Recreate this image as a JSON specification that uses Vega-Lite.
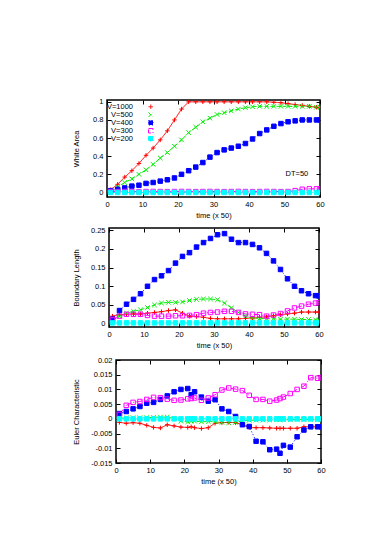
{
  "$schema": "https://vega.github.io/schema/vega-lite/v6.json",
  "padding": {"left": 70, "top": 97, "right": 0, "bottom": 0},
  "background": "white",
  "config": {
    "font": "Liberation Sans",
    "view": {"stroke": "black", "strokeWidth": 1.5},
    "axis": {"domain": false, "grid": false, "ticks": true, "tickSize": -4, "tickColor": "black", "tickWidth": 1, "labelPadding": 8, "labelFontSize": 7.5, "labelColor": "black", "titleFontSize": 7.5, "titleFontWeight": "normal", "titleColor": "black", "labelFont": "Liberation Sans", "titleFont": "Liberation Sans", "labelOverlap": false, "labelFlush": false, "tickCount": 50},
    "axisX": {"labelPadding": 7, "titlePadding": 4},
    "legend": {"labelFont": "Liberation Sans"}
  },
  "datasets": {
    "wa": [
      {"t":1,"V=1000":0.03,"V=500":0.02,"V=400":0.02,"V=300":0.01,"V=200":0},
      {"t":3,"V=1000":0.09,"V=500":0.06,"V=400":0.035,"V=300":0.01,"V=200":0},
      {"t":5,"V=1000":0.17,"V=500":0.11,"V=400":0.05,"V=300":0.011,"V=200":0},
      {"t":7,"V=1000":0.24,"V=500":0.15,"V=400":0.07,"V=300":0.01,"V=200":0},
      {"t":9,"V=1000":0.32,"V=500":0.2,"V=400":0.08,"V=300":0.009,"V=200":0},
      {"t":11,"V=1000":0.41,"V=500":0.25,"V=400":0.1,"V=300":0.01,"V=200":0},
      {"t":13,"V=1000":0.49,"V=500":0.31,"V=400":0.11,"V=300":0.011,"V=200":0},
      {"t":15,"V=1000":0.58,"V=500":0.38,"V=400":0.125,"V=300":0.01,"V=200":0},
      {"t":17,"V=1000":0.68,"V=500":0.44,"V=400":0.14,"V=300":0.009,"V=200":0},
      {"t":19,"V=1000":0.8,"V=500":0.51,"V=400":0.16,"V=300":0.01,"V=200":0},
      {"t":21,"V=1000":0.92,"V=500":0.58,"V=400":0.2,"V=300":0.011,"V=200":0},
      {"t":23,"V=1000":1.0,"V=500":0.66,"V=400":0.24,"V=300":0.01,"V=200":0},
      {"t":25,"V=1000":1.0,"V=500":0.72,"V=400":0.28,"V=300":0.009,"V=200":0},
      {"t":27,"V=1000":1.0,"V=500":0.78,"V=400":0.33,"V=300":0.01,"V=200":0},
      {"t":29,"V=1000":1.0,"V=500":0.82,"V=400":0.39,"V=300":0.011,"V=200":0},
      {"t":31,"V=1000":1.0,"V=500":0.86,"V=400":0.44,"V=300":0.01,"V=200":0},
      {"t":33,"V=1000":1.0,"V=500":0.88,"V=400":0.47,"V=300":0.009,"V=200":0},
      {"t":35,"V=1000":1.0,"V=500":0.9,"V=400":0.49,"V=300":0.01,"V=200":0},
      {"t":37,"V=1000":1.0,"V=500":0.92,"V=400":0.51,"V=300":0.011,"V=200":0},
      {"t":39,"V=1000":1.0,"V=500":0.935,"V=400":0.54,"V=300":0.01,"V=200":0},
      {"t":41,"V=1000":1.0,"V=500":0.945,"V=400":0.59,"V=300":0.009,"V=200":0},
      {"t":43,"V=1000":1.0,"V=500":0.95,"V=400":0.65,"V=300":0.01,"V=200":0},
      {"t":45,"V=1000":1.0,"V=500":0.95,"V=400":0.69,"V=300":0.011,"V=200":0},
      {"t":47,"V=1000":0.995,"V=500":0.95,"V=400":0.73,"V=300":0.01,"V=200":0},
      {"t":49,"V=1000":0.99,"V=500":0.95,"V=400":0.76,"V=300":0.009,"V=200":0},
      {"t":51,"V=1000":0.98,"V=500":0.95,"V=400":0.78,"V=300":0.01,"V=200":0},
      {"t":53,"V=1000":0.97,"V=500":0.95,"V=400":0.79,"V=300":0.02,"V=200":0},
      {"t":55,"V=1000":0.96,"V=500":0.95,"V=400":0.8,"V=300":0.035,"V=200":0},
      {"t":57,"V=1000":0.95,"V=500":0.95,"V=400":0.8,"V=300":0.04,"V=200":0},
      {"t":59,"V=1000":0.94,"V=500":0.94,"V=400":0.8,"V=300":0.04,"V=200":0},
      {"t":60,"V=1000":0.935,"V=500":0.94,"V=400":0.8,"V=300":0.04,"V=200":0}
    ],
    "bl": [
      {"t":1,"V=1000":0.02,"V=500":0.01,"V=400":0.012,"V=300":0.01,"V=200":0.002},
      {"t":3,"V=1000":0.024,"V=500":0.02,"V=400":0.035,"V=300":0.02,"V=200":0.002},
      {"t":5,"V=1000":0.025,"V=500":0.028,"V=400":0.052,"V=300":0.025,"V=200":0.002},
      {"t":7,"V=1000":0.026,"V=500":0.033,"V=400":0.065,"V=300":0.025,"V=200":0.002},
      {"t":9,"V=1000":0.026,"V=500":0.037,"V=400":0.08,"V=300":0.025,"V=200":0.002},
      {"t":11,"V=1000":0.028,"V=500":0.043,"V=400":0.1,"V=300":0.022,"V=200":0.002},
      {"t":13,"V=1000":0.03,"V=500":0.05,"V=400":0.118,"V=300":0.02,"V=200":0.002},
      {"t":15,"V=1000":0.032,"V=500":0.055,"V=400":0.128,"V=300":0.02,"V=200":0.002},
      {"t":17,"V=1000":0.035,"V=500":0.057,"V=400":0.142,"V=300":0.02,"V=200":0.002},
      {"t":19,"V=1000":0.037,"V=500":0.057,"V=400":0.162,"V=300":0.021,"V=200":0.002},
      {"t":21,"V=1000":0.028,"V=500":0.058,"V=400":0.18,"V=300":0.021,"V=200":0.002},
      {"t":23,"V=1000":0.02,"V=500":0.062,"V=400":0.19,"V=300":0.022,"V=200":0.002},
      {"t":25,"V=1000":0.019,"V=500":0.065,"V=400":0.205,"V=300":0.024,"V=200":0.002},
      {"t":27,"V=1000":0.017,"V=500":0.066,"V=400":0.217,"V=300":0.028,"V=200":0.002},
      {"t":29,"V=1000":0.014,"V=500":0.066,"V=400":0.228,"V=300":0.03,"V=200":0.002},
      {"t":31,"V=1000":0.013,"V=500":0.064,"V=400":0.238,"V=300":0.031,"V=200":0.002},
      {"t":33,"V=1000":0.013,"V=500":0.055,"V=400":0.241,"V=300":0.033,"V=200":0.002},
      {"t":35,"V=1000":0.013,"V=500":0.042,"V=400":0.226,"V=300":0.033,"V=200":0.002},
      {"t":37,"V=1000":0.013,"V=500":0.03,"V=400":0.217,"V=300":0.03,"V=200":0.002},
      {"t":39,"V=1000":0.014,"V=500":0.02,"V=400":0.217,"V=300":0.026,"V=200":0.002},
      {"t":41,"V=1000":0.015,"V=500":0.015,"V=400":0.212,"V=300":0.025,"V=200":0.002},
      {"t":43,"V=1000":0.017,"V=500":0.014,"V=400":0.203,"V=300":0.024,"V=200":0.002},
      {"t":45,"V=1000":0.018,"V=500":0.013,"V=400":0.188,"V=300":0.02,"V=200":0.002},
      {"t":47,"V=1000":0.021,"V=500":0.013,"V=400":0.168,"V=300":0.023,"V=200":0.002},
      {"t":49,"V=1000":0.024,"V=500":0.012,"V=400":0.145,"V=300":0.027,"V=200":0.002},
      {"t":51,"V=1000":0.026,"V=500":0.012,"V=400":0.12,"V=300":0.034,"V=200":0.002},
      {"t":53,"V=1000":0.028,"V=500":0.012,"V=400":0.1,"V=300":0.042,"V=200":0.002},
      {"t":55,"V=1000":0.031,"V=500":0.011,"V=400":0.088,"V=300":0.047,"V=200":0.002},
      {"t":57,"V=1000":0.031,"V=500":0.011,"V=400":0.08,"V=300":0.052,"V=200":0.002},
      {"t":59,"V=1000":0.031,"V=500":0.01,"V=400":0.075,"V=300":0.055,"V=200":0.002},
      {"t":60,"V=1000":0.031,"V=500":0.01,"V=400":0.074,"V=300":0.056,"V=200":0.002}
    ],
    "ec": [
      {"t":1,"V=1000":-0.0012,"V=500":0.0002,"V=400":0.0018,"V=300":0.0015,"V=200":0},
      {"t":3,"V=1000":-0.0015,"V=500":0.0003,"V=400":0.0025,"V=300":0.0046,"V=200":0},
      {"t":5,"V=1000":-0.0013,"V=500":0.0004,"V=400":0.0034,"V=300":0.0056,"V=200":0},
      {"t":7,"V=1000":-0.0015,"V=500":0.0004,"V=400":0.0042,"V=300":0.0059,"V=200":0},
      {"t":9,"V=1000":-0.0022,"V=500":0.0004,"V=400":0.0053,"V=300":0.0066,"V=200":0},
      {"t":11,"V=1000":-0.0029,"V=500":0.0005,"V=400":0.0056,"V=300":0.0073,"V=200":0},
      {"t":13,"V=1000":-0.0031,"V=500":0.0006,"V=400":0.0066,"V=300":0.0072,"V=200":0},
      {"t":15,"V=1000":-0.002,"V=500":0.0006,"V=400":0.0078,"V=300":0.0067,"V=200":0},
      {"t":17,"V=1000":-0.0024,"V=500":0.0001,"V=400":0.0092,"V=300":0.0063,"V=200":0},
      {"t":19,"V=1000":-0.0028,"V=500":-0.0008,"V=400":0.01,"V=300":0.0064,"V=200":0},
      {"t":21,"V=1000":-0.0029,"V=500":-0.001,"V=400":0.0103,"V=300":0.0068,"V=200":0},
      {"t":22,"V=1000":-0.0027,"V=500":-0.0008,"V=400":0.0082,"V=300":0.0069,"V=200":0},
      {"t":23,"V=1000":-0.003,"V=500":-0.0008,"V=400":0.0092,"V=300":0.0071,"V=200":0},
      {"t":25,"V=1000":-0.0033,"V=500":-0.001,"V=400":0.0074,"V=300":0.0063,"V=200":0},
      {"t":27,"V=1000":-0.003,"V=500":-0.0009,"V=400":0.006,"V=300":0.0071,"V=200":0},
      {"t":29,"V=1000":-0.0015,"V=500":-0.001,"V=400":0.0065,"V=300":0.0082,"V=200":0},
      {"t":31,"V=1000":-0.0013,"V=500":-0.0012,"V=400":0.0034,"V=300":0.0098,"V=200":0},
      {"t":33,"V=1000":-0.0012,"V=500":-0.0013,"V=400":0.0025,"V=300":0.0105,"V=200":0},
      {"t":35,"V=1000":-0.0013,"V=500":-0.0012,"V=400":0.0008,"V=300":0.0101,"V=200":0},
      {"t":37,"V=1000":-0.002,"V=500":-0.0007,"V=400":-0.002,"V=300":0.0096,"V=200":0},
      {"t":39,"V=1000":-0.003,"V=500":-0.0005,"V=400":-0.0026,"V=300":0.008,"V=200":0},
      {"t":41,"V=1000":-0.003,"V=500":-0.0004,"V=400":-0.0076,"V=300":0.0066,"V=200":0},
      {"t":43,"V=1000":-0.003,"V=500":-0.0004,"V=400":-0.0078,"V=300":0.0066,"V=200":0},
      {"t":45,"V=1000":-0.0031,"V=500":-0.0004,"V=400":-0.0105,"V=300":0.006,"V=200":0},
      {"t":47,"V=1000":-0.0032,"V=500":-0.0003,"V=400":-0.0103,"V=300":0.0064,"V=200":0},
      {"t":48,"V=1000":-0.0032,"V=500":-0.0003,"V=400":-0.0117,"V=300":0.0069,"V=200":0},
      {"t":49,"V=1000":-0.0032,"V=500":-0.0003,"V=400":-0.009,"V=300":0.0074,"V=200":0},
      {"t":51,"V=1000":-0.0032,"V=500":-0.0002,"V=400":-0.0096,"V=300":0.0086,"V=200":0},
      {"t":53,"V=1000":-0.0032,"V=500":-0.0002,"V=400":-0.0061,"V=300":0.01,"V=200":0},
      {"t":55,"V=1000":-0.0027,"V=500":-0.0002,"V=400":-0.0038,"V=300":0.0111,"V=200":0},
      {"t":57,"V=1000":-0.0027,"V=500":-0.0002,"V=400":-0.0027,"V=300":0.014,"V=200":0},
      {"t":59,"V=1000":-0.0027,"V=500":-0.0002,"V=400":-0.0027,"V=300":0.0138,"V=200":0},
      {"t":60,"V=1000":-0.0027,"V=500":-0.0002,"V=400":-0.0027,"V=300":0.014,"V=200":0}
    ]
  },
  "spacing": 5,
  "resolve": {"scale": {"y": "independent"}},
  "vconcat": [
    {"spacing": 0, "hconcat": [
    {"width": 1, "height": 1, "view": {"stroke": null}, "data": {"values": []}, "mark": "point", "encoding": {}},
    {
      "width": 213,
      "height": 97,
      "data": {"name": "wa"},
      "transform": [{"fold": ["V=1000","V=500","V=400","V=300","V=200"], "as": ["s","y"]}],
      "resolve": {"axis": {"x": "independent", "y": "independent"}},
      "layer": [
        {
          "mark": {"type": "line", "strokeWidth": 1, "clip": true},
          "encoding": {
            "x": {"field": "t", "type": "quantitative", "scale": {"domain": [0,60], "nice": false}, "axis": {"title": "time (x 50)", "values": [0,10,20,30,40,50,60], "tickCount": 50}},
            "y": {"field": "y", "type": "quantitative", "scale": {"domain": [-0.05,1.02], "nice": false, "zero": false}, "axis": {"title": "White Area", "values": [0,0.2,0.4,0.6,0.8,1], "tickCount": 50, "labelExpr": "replace(format(datum.value, '~g'), '\u2212', '-')", "titlePadding": 12}},
            "color": {"field": "s", "type": "nominal", "scale": {"domain": ["V=1000","V=500","V=400","V=300","V=200"], "range": ["#ff0000","#00ee00","#0000ff","#ff00ff","#00ffff"]},
              "legend": {"title": null, "orient": "none", "legendX": 77, "legendY": 3, "padding": 0, "labelFontSize": 7.5, "labelColor": "black", "symbolSize": 12, "symbolStrokeWidth": 1, "rowPadding": -2.5, "labelAlign": "right", "labelOffset": -21.5}},
            "strokeDash": {"field": "s", "type": "nominal", "scale": {"domain": ["V=1000","V=500","V=400","V=300","V=200"], "range": [[1,0],[4,2],[1,2],[6,2,1,2],[6,2,1,2,1,2]]}, "legend": null}
          }
        },
        {
          "mark": {"type": "point", "filled": false, "strokeWidth": 1, "opacity": 1, "clip": true},
          "encoding": {
            "x": {"field": "t", "type": "quantitative", "axis": {"orient": "top", "labels": false, "title": null, "values": [0,10,20,30,40,50,60], "tickCount": 50, "minExtent": 0, "maxExtent": 0}},
            "y": {"field": "y", "type": "quantitative", "axis": {"orient": "right", "labels": false, "title": null, "values": [0,0.2,0.4,0.6,0.8,1], "tickCount": 50, "minExtent": 0, "maxExtent": 0}},
            "color": {"field": "s", "type": "nominal"},
            "shape": {"field": "s", "type": "nominal", "scale": {"domain": ["V=1000","V=500","V=400","V=300","V=200"], "range": ["M-1,0L1,0M0,-1L0,1","M-1,-1L1,1M-1,1L1,-1","square","square","square"]}, "legend": null},
            "fill": {"field": "s", "type": "nominal", "scale": {"domain": ["V=1000","V=500","V=400","V=300","V=200"], "range": ["transparent","transparent","#0000ff","transparent","#00ffff"]}, "legend": null},
            "size": {"field": "s", "type": "nominal", "scale": {"domain": ["V=1000","V=500","V=400","V=300","V=200"], "range": [20,20,10,16,30]}, "legend": null}
          }
        },
        {
          "data": {"values": [{"t": 53.5, "y": 0.2, "label": "DT=50"}]},
          "mark": {"type": "text", "fontSize": 7.5, "color": "black", "font": "Liberation Sans"},
          "encoding": {
            "x": {"field": "t", "type": "quantitative", "axis": null},
            "y": {"field": "y", "type": "quantitative", "axis": null},
            "text": {"field": "label"}
          }
        }
      ]
    }]},
    {"spacing": 0, "hconcat": [
    {"width": 1, "height": 1, "view": {"stroke": null}, "data": {"values": []}, "mark": "point", "encoding": {}},
    {
      "width": 210,
      "height": 99,
      "data": {"name": "bl"},
      "transform": [{"fold": ["V=1000","V=500","V=400","V=300","V=200"], "as": ["s","y"]}],
      "resolve": {"axis": {"x": "independent", "y": "independent"}},
      "layer": [
        {
          "mark": {"type": "line", "strokeWidth": 1, "clip": true},
          "encoding": {
            "x": {"field": "t", "type": "quantitative", "scale": {"domain": [0,60], "nice": false}, "axis": {"title": "time (x 50)", "values": [0,10,20,30,40,50,60], "tickCount": 50}},
            "y": {"field": "y", "type": "quantitative", "scale": {"domain": [-0.009,0.256], "nice": false, "zero": false}, "axis": {"title": "Boundary Length", "values": [0,0.05,0.1,0.15,0.2,0.25], "tickCount": 50, "labelExpr": "replace(format(datum.value, '~g'), '\u2212', '-')", "titlePadding": 10}},
            "color": {"field": "s", "type": "nominal", "legend": null},
            "strokeDash": {"field": "s", "type": "nominal", "legend": null}
          }
        },
        {
          "mark": {"type": "point", "filled": false, "strokeWidth": 1, "opacity": 1, "clip": true},
          "encoding": {
            "x": {"field": "t", "type": "quantitative", "axis": {"orient": "top", "labels": false, "title": null, "values": [0,10,20,30,40,50,60], "tickCount": 50, "minExtent": 0, "maxExtent": 0}},
            "y": {"field": "y", "type": "quantitative", "axis": {"orient": "right", "labels": false, "title": null, "values": [0,0.05,0.1,0.15,0.2,0.25], "tickCount": 50, "minExtent": 0, "maxExtent": 0}},
            "color": {"field": "s", "type": "nominal", "legend": null},
            "shape": {"field": "s", "type": "nominal", "legend": null},
            "fill": {"field": "s", "type": "nominal", "legend": null},
            "size": {"field": "s", "type": "nominal", "legend": null}
          }
        }
      ]
    }]},
    {"spacing": 0, "hconcat": [
    {"width": 1, "height": 1, "view": {"stroke": null}, "data": {"values": []}, "mark": "point", "encoding": {}},
    {
      "width": 205,
      "height": 103,
      "data": {"name": "ec"},
      "transform": [{"fold": ["V=1000","V=500","V=400","V=300","V=200"], "as": ["s","y"]}],
      "resolve": {"axis": {"x": "independent", "y": "independent"}},
      "layer": [
        {
          "mark": {"type": "line", "strokeWidth": 1, "clip": true},
          "encoding": {
            "x": {"field": "t", "type": "quantitative", "scale": {"domain": [0,60], "nice": false}, "axis": {"title": "time (x 50)", "values": [0,10,20,30,40,50,60], "tickCount": 50}},
            "y": {"field": "y", "type": "quantitative", "scale": {"domain": [-0.015,0.02], "nice": false, "zero": false}, "axis": {"title": "Euler Characteristic", "values": [-0.015,-0.01,-0.005,0,0.005,0.01,0.015,0.02], "tickCount": 50, "labelExpr": "replace(format(datum.value, '~g'), '\u2212', '-')", "titlePadding": 10}},
            "color": {"field": "s", "type": "nominal", "legend": null},
            "strokeDash": {"field": "s", "type": "nominal", "legend": null}
          }
        },
        {
          "mark": {"type": "point", "filled": false, "strokeWidth": 1, "opacity": 1, "clip": true},
          "encoding": {
            "x": {"field": "t", "type": "quantitative", "axis": {"orient": "top", "labels": false, "title": null, "values": [0,10,20,30,40,50,60], "tickCount": 50, "minExtent": 0, "maxExtent": 0}},
            "y": {"field": "y", "type": "quantitative", "axis": {"orient": "right", "labels": false, "title": null, "values": [-0.015,-0.01,-0.005,0,0.005,0.01,0.015,0.02], "tickCount": 50, "minExtent": 0, "maxExtent": 0}},
            "color": {"field": "s", "type": "nominal", "legend": null},
            "shape": {"field": "s", "type": "nominal", "legend": null},
            "fill": {"field": "s", "type": "nominal", "legend": null},
            "size": {"field": "s", "type": "nominal", "legend": null}
          }
        }
      ]
    }]}
  ]
}
